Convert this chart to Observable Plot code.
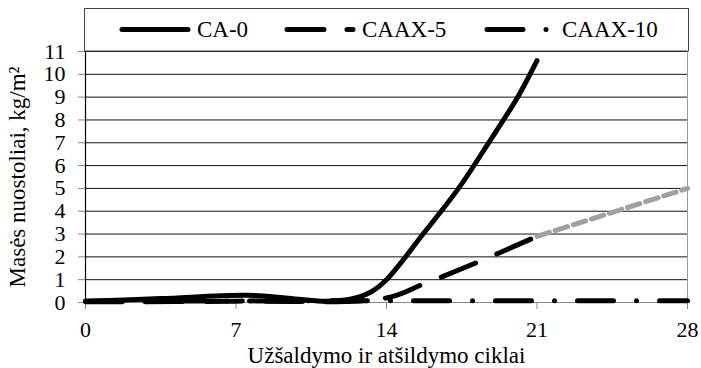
<!DOCTYPE html>
<html><head><meta charset="utf-8">
<script src="https://cdn.jsdelivr.net/npm/d3@7"></script>
<script src="https://cdn.jsdelivr.net/npm/@observablehq/plot@0.6"></script>
<style>
body{margin:0;background:#fff}
#chart svg{overflow:visible}
</style>
</head><body><div id="chart"></div>
<script>
// Data
const xTicks = [0, 7, 14, 21, 28];
const yTicks = [0, 1, 2, 3, 4, 5, 6, 7, 8, 9, 10, 11];
const seriesNames = ["CA-0", "CAAX-5", "CAAX-10"];

const ca0Cycles = [0, 3.5, 7.5, 9.3, 11, 12.3, 13.25, 14, 15.7, 17.35, 18.75, 20.1, 21];
const ca0Loss   = [0.05, 0.17, 0.32, 0.2, 0.06, 0.14, 0.45, 1.0, 3, 5, 7, 9, 10.6];

const caax5Cycles = [0, 7, 14, 15.7, 18.2, 21];
const caax5Loss   = [0.03, 0.06, 0.2, 0.8, 1.75, 2.9];

const caax5TrendCycles = [21, 28];
const caax5TrendLoss   = [2.9, 5.0];

const caax10Cycles = [0, 7, 14, 21, 28];
const caax10Loss   = [0.06, 0.07, 0.08, 0.08, 0.08];

const xLabel = "Užšaldymo ir atšildymo ciklai";
const yLabel = "Masės nuostoliai, kg/m²";

const rows = (xs, ys) => xs.map((x, i) => ({x, y: ys[i]}));
const ca0 = rows(ca0Cycles, ca0Loss);
const caax5 = rows(caax5Cycles, caax5Loss);
const caax5Trend = rows(caax5TrendCycles, caax5TrendLoss);
const caax10 = rows(caax10Cycles, caax10Loss);

const FONT = "Liberation Serif";

const W = 701, H = 368;
const plot = Plot.plot({
  width: W, height: H,
  marginLeft: 85, marginRight: 14, marginTop: 51, marginBottom: 66,
  style: {fontSize: "22px", background: "#fff", fontFamily: FONT},
  x: {domain: [0, 28]},
  y: {domain: [0, 11]},
  marks: [
    Plot.ruleY(yTicks.filter(d => d > 0), {stroke: "#111", strokeWidth: 1}),
    Plot.ruleY([0], {stroke: "#888", strokeWidth: 1}),
    Plot.ruleX([28], {stroke: "#999", strokeWidth: 1}),
    Plot.ruleX([0], {stroke: "#000", strokeWidth: 1.2}),
    Plot.axisY(yTicks, {tickSize: 7, tickPadding: 13, stroke: "#888", fill: "#000", fontSize: 22, label: null}),
    Plot.axisX(xTicks, {tickSize: 7, tickPadding: 12, stroke: "#888", fill: "#000", fontSize: 22, label: null}),
    Plot.line(caax10, {x: "x", y: "y", stroke: "#000", strokeWidth: 5, strokeLinecap: "round", strokeDasharray: "36 23 0 23"}),
    Plot.line(caax5, {x: "x", y: "y", stroke: "#000", strokeWidth: 5, strokeLinecap: "round", strokeDasharray: "37 23", curve: "catmull-rom"}),
    Plot.line(caax5Trend, {x: "x", y: "y", stroke: "#a0a0a0", strokeWidth: 5, strokeDasharray: "13 6"}),
    Plot.line(ca0, {x: "x", y: "y", stroke: "#000", strokeWidth: 5, strokeLinecap: "round", curve: "catmull-rom"}),
    Plot.text([xLabel], {frameAnchor: "bottom", textAnchor: "middle", lineAnchor: "middle", dy: 53, fontSize: 23, fill: "#000"}),
    Plot.text([yLabel], {frameAnchor: "left", textAnchor: "middle", lineAnchor: "middle", dx: -68, rotate: -90, fontSize: 23, fill: "#000"})
  ]
});
document.getElementById("chart").appendChild(plot);

// Legend box on top of the plot area
const svg = d3.select(plot);
const lg = svg.append("g").attr("text-anchor", "start");
lg.append("rect").attr("x", 84.5).attr("y", 8.5).attr("width", 604).attr("height", 42.5)
  .attr("fill", "#fff").attr("stroke", "#444").attr("stroke-width", 1);
const items = [
  {name: seriesNames[0], x0: 122, x1: 188, dash: null, tx: 197},
  {name: seriesNames[1], x0: 287, x1: 353, dash: "37 23", tx: 362},
  {name: seriesNames[2], x0: 487, x1: 553, dash: "36 23 0 23", tx: 562}
];
for (const it of items) {
  const l = lg.append("line").attr("x1", it.x0).attr("x2", it.x1).attr("y1", 29.5).attr("y2", 29.5)
    .attr("stroke", "#000").attr("stroke-width", 5).attr("stroke-linecap", "round");
  if (it.dash) l.attr("stroke-dasharray", it.dash);
  lg.append("text").attr("x", it.tx).attr("y", 37).attr("font-size", 23).attr("fill", "#000")
    .attr("text-anchor", "start").text(it.name);
}
svg.attr("font-family", FONT);
svg.selectAll("g, text").attr("font-family", FONT).style("font-family", FONT);
</script>
</body></html>
